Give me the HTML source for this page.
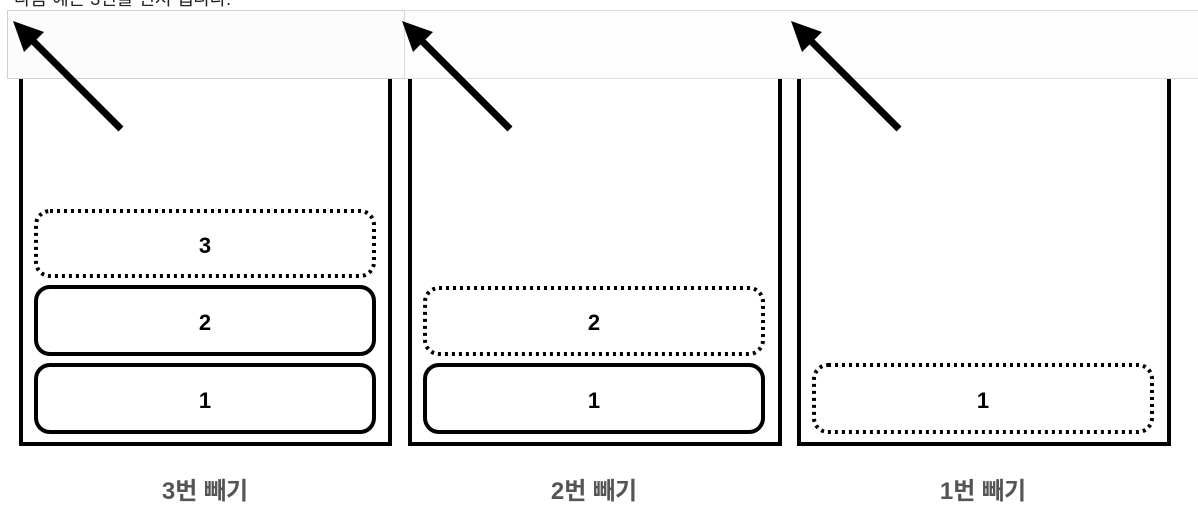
<!DOCTYPE html>
<html><head><meta charset="utf-8"><style>
html,body{margin:0;padding:0;background:#fff;width:1198px;height:515px;overflow:hidden}
svg{display:block}
</style></head><body>
<svg width="1198" height="515" viewBox="0 0 1198 515" font-family="'Liberation Sans','Noto Sans CJK KR',sans-serif">
<text x="14" y="5" font-size="18" fill="#222">다음 예는 3번을 먼저 뺍니다.</text>
<g>
<path d="M21 60 V444 H390 V60" fill="none" stroke="#000" stroke-width="4"/>
<rect x="36" y="211" width="338" height="65" rx="14" fill="none" stroke="#000" stroke-width="4" stroke-dasharray="3 4"/>
<text x="205" y="253" font-size="22" font-weight="bold" text-anchor="middle">3</text>
<rect x="36" y="287" width="338" height="67" rx="14" fill="none" stroke="#000" stroke-width="4"/>
<text x="205" y="330" font-size="22" font-weight="bold" text-anchor="middle">2</text>
<rect x="36" y="365" width="338" height="67" rx="14" fill="none" stroke="#000" stroke-width="4"/>
<text x="205" y="408" font-size="22" font-weight="bold" text-anchor="middle">1</text>
<text x="205" y="499" font-size="24" font-weight="bold" fill="#555" text-anchor="middle">3번 빼기</text>
</g>
<g>
<path d="M410 60 V444 H780 V60" fill="none" stroke="#000" stroke-width="4"/>
<rect x="425" y="288" width="338" height="66" rx="14" fill="none" stroke="#000" stroke-width="4" stroke-dasharray="3 4"/>
<text x="594" y="330" font-size="22" font-weight="bold" text-anchor="middle">2</text>
<rect x="425" y="365" width="338" height="67" rx="14" fill="none" stroke="#000" stroke-width="4"/>
<text x="594" y="408" font-size="22" font-weight="bold" text-anchor="middle">1</text>
<text x="594" y="499" font-size="24" font-weight="bold" fill="#555" text-anchor="middle">2번 빼기</text>
</g>
<g>
<path d="M799 60 V444 H1169 V60" fill="none" stroke="#000" stroke-width="4"/>
<rect x="814" y="365" width="338" height="67" rx="14" fill="none" stroke="#000" stroke-width="4" stroke-dasharray="3 4"/>
<text x="983" y="408" font-size="22" font-weight="bold" text-anchor="middle">1</text>
<text x="983" y="499" font-size="24" font-weight="bold" fill="#555" text-anchor="middle">1번 빼기</text>
</g>
<rect x="7.5" y="10.5" width="397" height="68" fill="#fcfcfc" stroke="#d0d0d0" stroke-width="1"/>
<rect x="404.5" y="10.5" width="800" height="68" fill="#fdfdfd" stroke="#dcdcdc" stroke-width="1"/>
<g>
<g><line x1="121" y1="129" x2="28" y2="36" stroke="#000" stroke-width="7"/><polygon points="13,21 44,32 24,52" fill="#000"/></g>
<g><line x1="510" y1="129" x2="417" y2="36" stroke="#000" stroke-width="7"/><polygon points="402,21 433,32 413,52" fill="#000"/></g>
<g><line x1="899" y1="129" x2="806" y2="36" stroke="#000" stroke-width="7"/><polygon points="791,21 822,32 802,52" fill="#000"/></g>
</g>
</svg>
</body></html>
